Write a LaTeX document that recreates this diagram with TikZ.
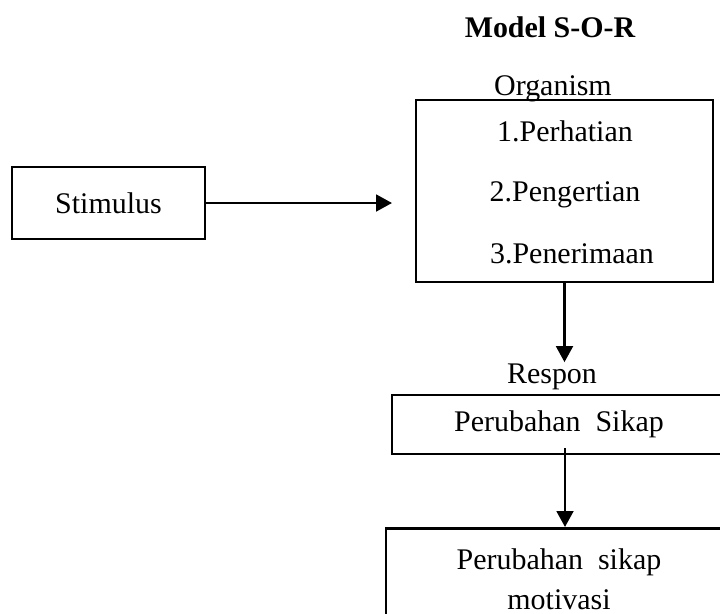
\documentclass[tikz,border=0pt]{standalone}
\usepackage{fontspec}
\setmainfont{Liberation Serif}
\usetikzlibrary{arrows.meta}

\begin{document}
\begin{tikzpicture}[>={Triangle[length=0.4cm, width=0.42cm]},
  font=\fontsize{21.3}{29}\selectfont, line width=1.8pt,
  b/.style={draw, inner sep=0pt, align=center},
  lbl/.style={inner sep=0pt, anchor=base}]
  \useasboundingbox (0,0) rectangle (18,-15.35);
  \clip (0,0) rectangle (18,-15.35);
  \node[lbl, font=\fontsize{21.3}{29}\selectfont\bfseries] (title) at (13.75,-0.925) {Model S-O-R};
  \node[lbl] (orglbl) at (13.825,-2.375) {Organism};
  \node[b, minimum width=7.425cm, minimum height=4.55cm] (org) at (14.1125,-4.775) {};
  \node[lbl] (i1) at (14.125,-3.54)  {1.Perhatian};
  \node[lbl] (i2) at (14.125,-5.04)  {2.Pengertian};
  \node[lbl] (i3) at (14.3,-6.575)   {3.Penerimaan};
  \node[b, minimum width=4.825cm, minimum height=1.8cm] (stim) at (2.7125,-5.075) {Stimulus};
  \coordinate (stimend) at (9.8,-5.075);
  \node[lbl] (resp) at (13.8,-9.575) {Respon};
  \node[b, minimum width=8.35cm, minimum height=1.475cm] (sikap) at (13.975,-10.6125) {Perubahan\ \ Sikap};
  \node[b, anchor=north, minimum width=8.65cm, inner ysep=0.5cm] (motiv) at (13.975,-13.175)
    {Perubahan\ \ sikap\\motivasi};
  \draw[->] (stim.east) -- (stimend);
  \draw[->] (org.south) -- (org.south |- resp.north);
  \draw[->] ([xshift=0.15cm, yshift=0.175cm]sikap.south) -- ([xshift=0.15cm]motiv.north);
\end{tikzpicture}
\end{document}
